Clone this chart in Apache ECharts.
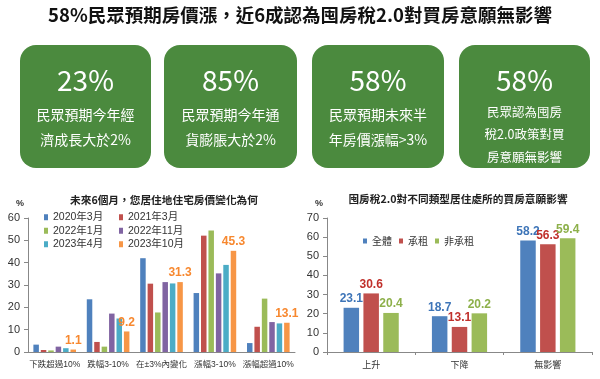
<!DOCTYPE html>
<html>
<head>
<meta charset="utf-8">
<script src="https://cdn.jsdelivr.net/npm/echarts@6/dist/echarts.min.js"></script>
<style>html,body{margin:0;padding:0;background:#fff;}#c{width:600px;height:379px;}</style>
</head>
<body>
<div id="c"></div>
<script>
// ---- data ----
const mainTitle = '58%民眾預期房價漲，近6成認為囤房稅2.0對買房意願無影響';
const cardValues = ['23%', '85%', '58%', '58%'];
const cardLines = [
  ['民眾預期今年經', '濟成長大於2%'],
  ['民眾預期今年通', '貨膨脹大於2%'],
  ['民眾預期未來半', '年房價漲幅>3%'],
  ['民眾認為囤房', '稅2.0政策對買', '房意願無影響']
];

const leftTitle = '未來6個月，您居住地住宅房價變化為何';
const leftCategories = ['下跌超過10%', '跌幅3-10%', '在±3%內變化', '漲幅3-10%', '漲幅超過10%'];
const leftSeriesNames = ['2020年3月', '2021年3月', '2022年1月', '2022年11月', '2023年4月', '2023年10月'];
const s2020m3 = [3.3, 23.6, 42.0, 26.4, 4.0];
const s2021m3 = [0.9, 4.5, 30.6, 52.1, 11.3];
const s2022m1 = [0.7, 2.4, 17.7, 54.4, 23.9];
const s2022m11 = [2.4, 17.2, 31.3, 35.2, 13.4];
const s2023m4 = [1.7, 15.0, 30.7, 39.0, 12.8];
const s2023m10 = [1.1, 9.2, 31.3, 45.3, 13.1];
const leftTicks = [0, 10, 20, 30, 40, 50, 60];

const rightTitle = '囤房稅2.0對不同類型居住處所的買房意願影響';
const rightCategories = ['上升', '下降', '無影響'];
const rightSeriesNames = ['全體', '承租', '非承租'];
const rAll = [23.1, 18.7, 58.2];
const rRent = [30.6, 13.1, 56.3];
const rNonRent = [20.4, 20.2, 59.4];
const rightTicks = [0, 10, 20, 30, 40, 50, 60, 70];

// ---- styles ----
const leftColors = ['#4F81BD', '#C0504D', '#9BBB59', '#8064A2', '#4BACC6', '#F79646'];
const rightColors = ['#4F81BD', '#C0504D', '#9BBB59'];
const rightLabelColors = ['#3E75B8', '#C0302B', '#8DB04A'];
const cjk = '"Noto Sans CJK TC", "Noto Sans", sans-serif';
const chartFont = '"Liberation Sans", Arial, "Noto Sans CJK TC", sans-serif';
const cardGreen = '#4B8A3E';

const cards = [
  {x: 20, w: 131, lines: [115, 140], fs: 14},
  {x: 164, w: 133, lines: [115, 140], fs: 14},
  {x: 312, w: 132, lines: [115, 140], fs: 14},
  {x: 459, w: 131, lines: [112, 134.5, 157], fs: 12.5}
];

const graphics = [];
graphics.push({type: 'text', style: {text: mainTitle, x: 300, y: 15, textAlign: 'center', textVerticalAlign: 'middle', fontSize: 18.5, fontWeight: 'bold', fontFamily: cjk, fill: '#111'}});
cards.forEach((c, i) => {
  graphics.push({type: 'rect', shape: {x: c.x, y: 45, width: c.w, height: 123, r: 16}, style: {fill: cardGreen}});
  graphics.push({type: 'text', style: {text: cardValues[i], x: c.x + c.w / 2, y: 80, textAlign: 'center', textVerticalAlign: 'middle', fontSize: 28, fontFamily: cjk, fill: '#fff'}});
  cardLines[i].forEach((t, j) => {
    graphics.push({type: 'text', style: {text: t, x: c.x + c.w / 2, y: c.lines[j], textAlign: 'center', textVerticalAlign: 'middle', fontSize: c.fs, fontFamily: cjk, fill: '#fff'}});
  });
});
graphics.push({type: 'text', style: {text: leftTitle, x: 164, y: 200, textAlign: 'center', textVerticalAlign: 'middle', fontSize: 10.7, fontWeight: 'bold', fontFamily: cjk, fill: '#222'}});
graphics.push({type: 'text', style: {text: rightTitle, x: 458, y: 199, textAlign: 'center', textVerticalAlign: 'middle', fontSize: 10.7, fontWeight: 'bold', fontFamily: cjk, fill: '#222'}});
graphics.push({type: 'text', style: {text: '%', x: 20, y: 204, textAlign: 'center', textVerticalAlign: 'middle', fontSize: 9, fontWeight: 'bold', fontFamily: chartFont, fill: '#333'}});
graphics.push({type: 'text', style: {text: '%', x: 319, y: 204, textAlign: 'center', textVerticalAlign: 'middle', fontSize: 9, fontWeight: 'bold', fontFamily: chartFont, fill: '#333'}});

const leftData = [s2020m3, s2021m3, s2022m1, s2022m11, s2023m4, s2023m10];
const rightData = [rAll, rRent, rNonRent];

const series = [];
leftData.forEach((d, i) => {
  series.push({
    type: 'bar', name: leftSeriesNames[i], xAxisIndex: 0, yAxisIndex: 0, data: d,
    barWidth: 5.5, barGap: '35%',
    itemStyle: {color: leftColors[i]},
    label: i === 5 ? {show: true, position: 'top', distance: 3, color: '#F7882F', fontSize: 12, fontWeight: 'bold', fontFamily: chartFont} : {show: false}
  });
});
rightData.forEach((d, i) => {
  series.push({
    type: 'bar', name: rightSeriesNames[i], xAxisIndex: 1, yAxisIndex: 1, data: d,
    barWidth: 15.5, barGap: '28%',
    itemStyle: {color: rightColors[i]},
    label: {show: true, position: 'top', distance: 3, color: rightLabelColors[i], fontSize: 12, fontWeight: 'bold', fontFamily: chartFont}
  });
});

const axisLine = {show: true, lineStyle: {color: '#888', width: 1}};
const legendText = {fontSize: 10.5, color: '#333', fontFamily: chartFont};

const option = {
  animation: false,
  graphic: graphics,
  grid: [
    {left: 28, top: 218, width: 267, height: 134},
    {left: 327, top: 218, width: 265, height: 134}
  ],
  legend: [
    {data: [leftSeriesNames[0], leftSeriesNames[2], leftSeriesNames[4]], orient: 'vertical', left: 44, top: 212, itemWidth: 4, itemHeight: 6, itemGap: 3, textStyle: legendText, icon: 'rect', padding: 0},
    {data: [leftSeriesNames[1], leftSeriesNames[3], leftSeriesNames[5]], orient: 'vertical', left: 119, top: 212, itemWidth: 4, itemHeight: 6, itemGap: 3, textStyle: legendText, icon: 'rect', padding: 0},
    {data: rightSeriesNames, orient: 'horizontal', left: 363, top: 236, itemWidth: 4, itemHeight: 5, itemGap: 7, textStyle: {fontSize: 10, color: '#333', fontFamily: cjk}, icon: 'rect', padding: 0}
  ],
  xAxis: [
    {type: 'category', gridIndex: 0, data: leftCategories, axisLine: axisLine, axisTick: {show: false},
     axisLabel: {fontSize: 8.5, color: '#333', fontFamily: chartFont, margin: 8, interval: 0}},
    {type: 'category', gridIndex: 1, data: rightCategories, axisLine: axisLine, axisTick: {show: true, length: 3, lineStyle: {color: '#888'}},
     axisLabel: {fontSize: 9, color: '#333', fontFamily: cjk, margin: 8, interval: 0}}
  ],
  yAxis: [
    {type: 'value', gridIndex: 0, min: leftTicks[0], max: leftTicks[leftTicks.length - 1], interval: 10, splitLine: {show: false},
     axisLine: axisLine, axisTick: {show: true, length: 4, lineStyle: {color: '#888'}},
     axisLabel: {fontSize: 11, color: '#333', fontFamily: chartFont, margin: 8}},
    {type: 'value', gridIndex: 1, min: rightTicks[0], max: rightTicks[rightTicks.length - 1], interval: 10, splitLine: {show: false},
     axisLine: axisLine, axisTick: {show: true, length: 4, lineStyle: {color: '#888'}},
     axisLabel: {fontSize: 11, color: '#333', fontFamily: chartFont, margin: 8}}
  ],
  series: series
};

const chart = echarts.init(document.getElementById('c'), null, {renderer: 'canvas'});
chart.setOption(option);
</script>
</body>
</html>
